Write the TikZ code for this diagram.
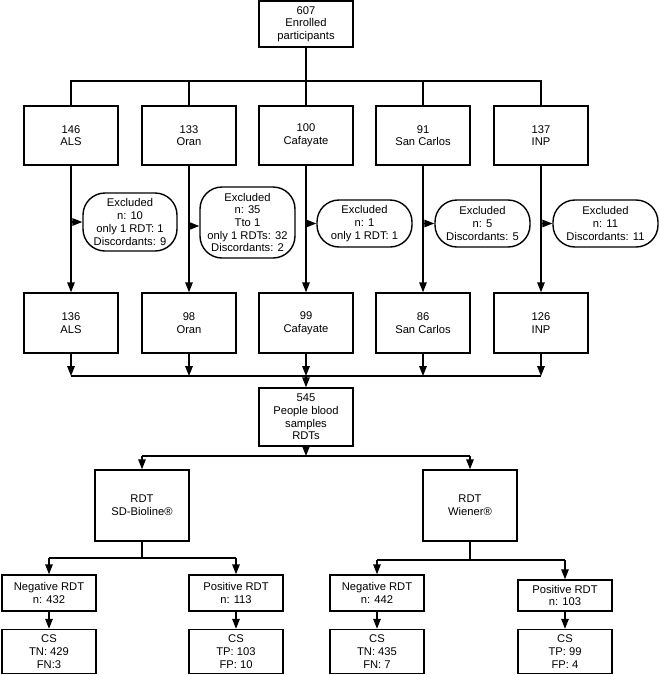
\documentclass[tikz,border=0pt]{standalone}
\usepackage{fontspec}
\setmainfont{Liberation Sans}
\usetikzlibrary{arrows.meta}
\begin{document}
\begin{tikzpicture}[x=1pt,y=-1pt,
 box/.style={draw, line width=1.4pt, align=center, inner sep=0pt, font=\fontsize{11.2}{12.7}\selectfont, minimum width=94pt},
 excl/.style={box, rounded corners=22pt},
 arr/.style={line width=1.4pt, -{Triangle[length=10pt,width=7.5pt]}},
 ln/.style={line width=1.4pt}]
\useasboundingbox (0,0) rectangle (660,675);
% top
\node[box, minimum height=46pt] (top) at (306,24) {607\\Enrolled\\participants};
% sites
\foreach \n/\x/\a/\b in {als/71/146/ALS, oran/189/133/Oran, caf/306/100/Cafayate, sc/423/91/San Carlos, inp/541/137/INP}{
  \node[box, minimum height=59pt] (\n) at (\x,135.5) {\a\\\b};
}
\foreach \n/\x/\a/\b in {als/71/136/ALS, oran/189/98/Oran, caf/306/99/Cafayate, sc/423/86/San Carlos, inp/541/126/INP}{
  \node[box, minimum height=60pt] (\n2) at (\x,323) {\a\\\b};
}
% excluded
\node[excl, minimum height=58pt] (exals) at (130,222) {Excluded\\n: 10\\only 1 RDT: 1\\Discordants: 9};
\node[excl, minimum height=71pt, minimum width=95pt] (exoran) at (247.5,222.5) {Excluded\\n: 35\\Tto 1\\only 1 RDTs: 32\\Discordants: 2};
\node[excl, minimum height=47pt, minimum width=95pt] (excaf) at (364.5,223.5) {Excluded\\n: 1\\only 1 RDT: 1};
\node[excl, minimum height=47pt, minimum width=95pt] (exsc) at (482.5,223.5) {Excluded\\n: 5\\Discordants: 5};
\node[excl, minimum height=47pt, minimum width=105pt] (exinp) at (605.5,223.5) {Excluded\\n: 11\\Discordants: 11};
% blood
\node[box, minimum height=58pt] (blood) at (306,417) {545\\People blood\\samples\\RDTs};
% RDT boxes
\node[box, minimum height=71pt] (sd) at (142,505.5) {RDT\\SD-Bioline®};
\node[box, minimum height=71pt] (wi) at (470,505.5) {RDT\\Wiener®};
% results
\node[box, minimum height=36pt] (sdn) at (49,593) {Negative RDT\\n: 432};
\node[box, minimum height=36pt] (sdp) at (236,593) {Positive RDT\\n: 113};
\node[box, minimum height=36pt] (win) at (377,593) {Negative RDT\\n: 442};
\node[box, minimum height=31pt] (wip) at (565,595.5) {Positive RDT\\n: 103};
\node[box, minimum height=44pt] (sdncs) at (49,651.5) {CS\\TN: 429\\FN:3};
\node[box, minimum height=44pt] (sdpcs) at (236,651.5) {CS\\TP: 103\\FP: 10};
\node[box, minimum height=44pt] (wincs) at (377,651.5) {CS\\TN: 435\\FN: 7};
\node[box, minimum height=44pt] (wipcs) at (565,651.5) {CS\\TP: 99\\FP: 4};
% connectors top
\coordinate (busA) at (306,81);
\draw[ln] (top.south) -- (busA);
\draw[ln] (als.north) -- (als.north |- busA) -- (inp.north |- busA) -- (inp.north);
\foreach \n in {oran,caf,sc}{ \draw[ln] (\n.north) -- (\n.north |- busA); }
\foreach \n in {als,oran,caf,sc,inp}{ \draw[arr] (\n.south) -- (\n2.north); }
\draw[arr] (als.south |- exals.west) -- (exals.west);
\draw[arr] (oran.south |- 0,226) -- (exoran.west |- 0,226);
\draw[arr] (caf.south |- excaf.west) -- (excaf.west);
\draw[arr] (sc.south |- exsc.west) -- (exsc.west);
\draw[arr] (inp.south |- exinp.west) -- (exinp.west);
% bus 2
\coordinate (busB) at (306,376);
\foreach \n in {als,oran,caf,sc,inp}{ \draw[arr] (\n2.south) -- (\n2.south |- busB); }
\draw[ln] (als2.south |- busB) -- (inp2.south |- busB);
\draw[arr] (busB) -- (blood.north);
% bus 3
\coordinate (busC) at (306,456);
\draw[arr] (blood.south) -- (busC);
\draw[ln] (sd.north |- busC) -- (wi.north |- busC);
\draw[arr] (sd.north |- busC) -- (sd.north);
\draw[arr] (wi.north |- busC) -- (wi.north);
% SD split
\coordinate (busD) at (142,558);
\draw[ln] (sd.south) -- (busD);
\draw[ln] (sdn.north |- busD) -- (sdp.north |- busD);
\draw[arr] (sdn.north |- busD) -- (sdn.north);
\draw[arr] (sdp.north |- busD) -- (sdp.north);
% Wiener split
\coordinate (busE) at (470,560);
\draw[ln] (wi.south) -- (busE);
\draw[ln] (win.north |- busE) -- (wip.north |- busE);
\draw[arr] (win.north |- busE) -- (win.north);
\draw[arr] (wip.north |- busE) -- (wip.north);
% CS
\draw[arr] (sdn.south) -- (sdncs.north);
\draw[arr] (sdp.south) -- (sdpcs.north);
\draw[arr] (win.south) -- (wincs.north);
\draw[arr] (wip.south) -- (wipcs.north);
\end{tikzpicture}
\end{document}
